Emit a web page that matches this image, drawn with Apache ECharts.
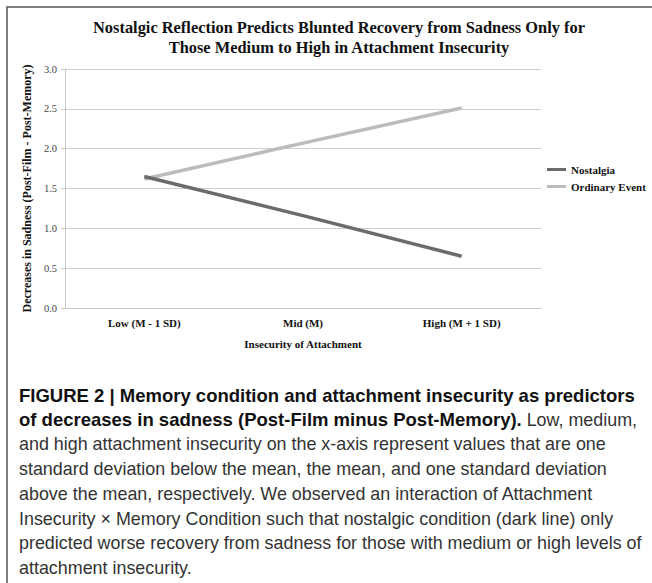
<!DOCTYPE html>
<html lang="en">
<head>
	<meta charset="UTF-8">
	<title>Nostalgia figure 2</title>
    <script src="https://cdn.jsdelivr.net/npm/echarts@6/dist/echarts.min.js"></script>
    <style>
        html, body { margin: 0; padding: 0; background: #fff; }
    </style>
</head>
<body>
	<div id="main" style="width: 652px;height:583px;"></div>
	 <script type="text/javascript">

        // data
        var categories = ['Low (M - 1 SD)', 'Mid (M)', 'High (M + 1 SD)'];
        var nostalgia = [1.65, 1.16, 0.65];
        var ordinaryEvent = [1.62, 2.07, 2.51];
        var yTicks = [0, 0.5, 1.0, 1.5, 2.0, 2.5, 3.0];

        var captionLines = [
            [{b: 'FIGURE 2 | Memory condition and attachment insecurity as predictors'}],
            [{b: 'of decreases in sadness (Post-Film minus Post-Memory).'}, {n: ' Low, medium,'}],
            [{n: 'and high attachment insecurity on the x-axis represent values that are one'}],
            [{n: 'standard deviation below the mean, the mean, and one standard deviation'}],
            [{n: 'above the mean, respectively. We observed an interaction of Attachment'}],
            [{n: 'Insecurity \u00d7 Memory Condition such that nostalgic condition (dark line) only'}],
            [{n: 'predicted worse recovery from sadness for those with medium or high levels of'}],
            [{n: 'attachment insecurity.'}]
        ];

        var serif = '"Liberation Serif", "Times New Roman", serif';
        var sans = '"Liberation Sans", Arial, sans-serif';

        var myChart = echarts.init(document.getElementById('main'), null, {renderer: 'svg'});

        // caption under the chart, one text per line
        var captionEls = captionLines.map(function (parts, i) {
            var str = parts.map(function (p) {
                return p.b ? '{b|' + p.b + '}' : '{n|' + p.n + '}';
            }).join('');
            return {
                type: 'text',
                style: {
                    x: 19,
                    y: 395 + i * 24.7,
                    verticalAlign: 'middle',
                    text: str,
                    rich: {
                        b: {fontFamily: sans, fontSize: 18.5, fontWeight: 'bold', fill: '#111'},
                        n: {fontFamily: sans, fontSize: 17.9, fill: '#333'}
                    }
                }
            };
        });

		var option = {
            backgroundColor: '#fff',
			title: {
				text: 'Nostalgic Reflection Predicts Blunted Recovery from Sadness Only for\nThose Medium to High in Attachment Insecurity',
                left: 334,
                top: 12,
                textAlign: 'center',
                textStyle: {
                    fontFamily: serif,
                    fontWeight: 'bold',
                    fontSize: 16.4,
                    lineHeight: 20,
                    color: '#111'
                }
			},
            legend: {
                orient: 'vertical',
                left: 542,
                top: 159,
                itemWidth: 19,
                itemHeight: 3,
                itemGap: 6,
                icon: 'rect',
                textStyle: {
                    fontFamily: serif,
                    fontWeight: 'bold',
                    fontSize: 11,
                    color: '#111'
                },
                data: ['Nostalgia', 'Ordinary Event']
            },
            grid: {
                left: 65,
                top: 69,
                width: 476,
                height: 239
            },
		    xAxis: {
		    	name: 'Insecurity of Attachment',
                nameLocation: 'middle',
                nameGap: 30,
                nameTextStyle: {fontFamily: serif, fontWeight: 'bold', fontSize: 11, color: '#111'},
		        type: 'category',
		        data: categories,
		        boundaryGap: true,
                axisLine: {lineStyle: {color: '#c8c8c8'}},
                axisTick: {show: false},
		        axisLabel: {
		        	interval: 0,
                    margin: 9,
                    fontFamily: serif,
                    fontWeight: 'bold',
                    fontSize: 11,
                    color: '#111'
		        }
		    },
		    yAxis: {
		    	name: 'Decreases in Sadness (Post-Film - Post-Memory)',
                nameLocation: 'middle',
                nameGap: 20,
                nameTextStyle: {fontFamily: serif, fontWeight: 'bold', fontSize: 12, color: '#111'},
		        type: 'value',
                min: yTicks[0],
                max: yTicks[yTicks.length - 1],
                interval: 0.5,
                axisLine: {show: true, lineStyle: {color: '#c8c8c8'}},
                axisTick: {show: true, length: 4, lineStyle: {color: '#c8c8c8'}},
                splitLine: {lineStyle: {color: '#cfcfcf'}},
                axisLabel: {
                    margin: 8,
                    fontFamily: serif,
                    fontSize: 10.5,
                    color: '#444',
                    formatter: function (v) { return v.toFixed(1); }
                }
		    },
		    series: [{
                name: 'Nostalgia',
		        data: nostalgia,
		        type: 'line',
                symbol: 'none',
                color: '#6b6b6b',
                lineStyle: {width: 3.5, color: '#6b6b6b'},
                z: 3
		    }, {
                name: 'Ordinary Event',
		        data: ordinaryEvent,
		        type: 'line',
                symbol: 'none',
                color: '#bcbcbc',
                lineStyle: {width: 3.5, color: '#bcbcbc'},
                z: 2
		    }],
            graphic: [{
                type: 'polyline',
                shape: {points: [[7, 583], [7, 7], [652, 7]]},
                style: {stroke: '#555', lineWidth: 1.5, fill: null}
            }].concat(captionEls)
		};

        myChart.setOption(option);
    </script>
</body>
</html>
